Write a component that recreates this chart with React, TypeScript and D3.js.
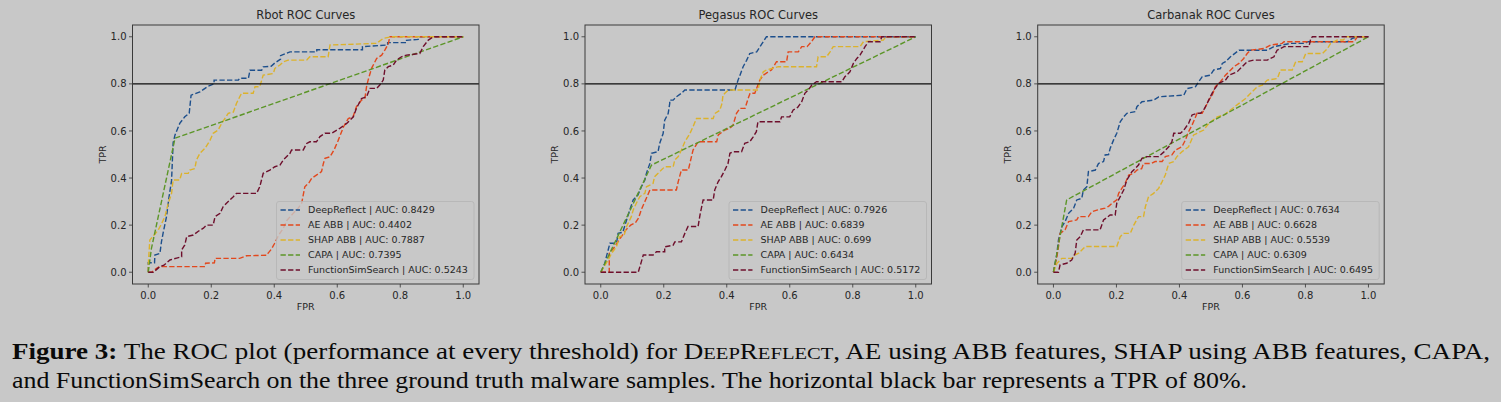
import React from "react";
import * as d3 from "d3";

type Pt = [number, number];

const panelTitles = ["Rbot ROC Curves", "Pegasus ROC Curves", "Carbanak ROC Curves"];
const seriesNames = ["DeepReflect", "AE ABB", "SHAP ABB", "CAPA", "FunctionSimSearch"];
const seriesColors = ["#1d4f8c", "#e2481d", "#dcb22c", "#5b9527", "#6e0f2c"];
const rbotAuc = ["0.8429", "0.4402", "0.7887", "0.7395", "0.5243"];
const pegasusAuc = ["0.7926", "0.6839", "0.699", "0.6434", "0.5172"];
const carbanakAuc = ["0.7634", "0.6628", "0.5539", "0.6309", "0.6495"];
const tickValues = [0, 0.2, 0.4, 0.6, 0.8, 1.0];
const thresholdTpr = 0.8;

// ---- Rbot ----
const rbotDeepReflect: Pt[] = [[0,0],[0,0.04],[0.02,0.04],[0.021,0.073],[0.037,0.08],[0.042,0.13],[0.048,0.172],[0.058,0.236],[0.066,0.32],[0.074,0.39],[0.079,0.55],[0.085,0.583],[0.1,0.632],[0.116,0.66],[0.13,0.675],[0.136,0.752],[0.164,0.766],[0.19,0.79],[0.209,0.8],[0.209,0.816],[0.286,0.816],[0.29,0.824],[0.318,0.824],[0.323,0.858],[0.36,0.858],[0.365,0.872],[0.39,0.875],[0.402,0.889],[0.42,0.905],[0.42,0.92],[0.45,0.936],[0.535,0.936],[0.535,0.945],[0.68,0.945],[0.68,0.958],[0.76,0.965],[0.76,0.975],[0.82,0.975],[0.82,0.985],[0.857,0.989],[0.86,1.0],[1,1]];
const rbotAeAbb: Pt[] = [[0,0],[0.011,0],[0.02,0.01],[0.03,0.02],[0.037,0.024],[0.18,0.024],[0.182,0.038],[0.21,0.04],[0.212,0.059],[0.29,0.059],[0.312,0.07],[0.376,0.072],[0.38,0.08],[0.392,0.1],[0.4,0.12],[0.413,0.155],[0.43,0.19],[0.44,0.22],[0.46,0.25],[0.475,0.27],[0.487,0.293],[0.497,0.363],[0.51,0.38],[0.519,0.399],[0.55,0.427],[0.556,0.462],[0.561,0.484],[0.577,0.49],[0.59,0.52],[0.603,0.56],[0.62,0.618],[0.635,0.653],[0.65,0.66],[0.661,0.703],[0.677,0.731],[0.688,0.74],[0.693,0.788],[0.698,0.816],[0.709,0.866],[0.725,0.908],[0.741,0.922],[0.751,0.943],[0.762,0.97],[0.767,1.0],[1,1]];
const rbotShapAbb: Pt[] = [[0,0],[0,0.03],[0.005,0.137],[0.02,0.16],[0.032,0.18],[0.04,0.2],[0.053,0.236],[0.063,0.29],[0.074,0.335],[0.079,0.392],[0.1,0.392],[0.106,0.42],[0.127,0.42],[0.132,0.434],[0.148,0.44],[0.153,0.477],[0.164,0.505],[0.18,0.526],[0.196,0.56],[0.206,0.59],[0.222,0.604],[0.233,0.632],[0.254,0.675],[0.27,0.68],[0.28,0.717],[0.296,0.76],[0.333,0.76],[0.339,0.788],[0.354,0.788],[0.365,0.837],[0.397,0.844],[0.402,0.866],[0.418,0.88],[0.429,0.894],[0.444,0.901],[0.503,0.901],[0.513,0.915],[0.571,0.915],[0.577,0.965],[0.725,0.972],[0.746,0.993],[0.772,1.0],[1,1]];
const rbotCapa: Pt[] = [[0,0],[0.01,0.1],[0.085,0.569],[1,1]];
const rbotFuncSim: Pt[] = [[0,0],[0.016,0],[0.025,0.01],[0.037,0.024],[0.05,0.03],[0.069,0.052],[0.09,0.06],[0.106,0.066],[0.106,0.095],[0.116,0.116],[0.122,0.151],[0.143,0.158],[0.16,0.175],[0.175,0.187],[0.185,0.2],[0.206,0.2],[0.212,0.236],[0.228,0.25],[0.238,0.279],[0.259,0.307],[0.27,0.321],[0.28,0.335],[0.344,0.335],[0.354,0.363],[0.365,0.42],[0.386,0.434],[0.402,0.448],[0.418,0.455],[0.429,0.477],[0.45,0.505],[0.455,0.519],[0.492,0.519],[0.503,0.547],[0.513,0.554],[0.534,0.554],[0.545,0.576],[0.561,0.59],[0.582,0.59],[0.608,0.611],[0.63,0.632],[0.651,0.66],[0.661,0.696],[0.677,0.738],[0.693,0.745],[0.704,0.781],[0.725,0.781],[0.735,0.795],[0.746,0.816],[0.751,0.859],[0.762,0.873],[0.778,0.88],[0.788,0.901],[0.804,0.915],[0.82,0.922],[0.862,0.929],[0.873,0.958],[0.889,0.986],[0.905,1.0],[1,1]];

// ---- Pegasus ----
const pegasusDeepReflect: Pt[] = [[0,0],[0.013,0.038],[0.018,0.066],[0.029,0.123],[0.05,0.123],[0.055,0.165],[0.07,0.17],[0.082,0.222],[0.092,0.264],[0.103,0.307],[0.118,0.328],[0.129,0.363],[0.14,0.392],[0.145,0.42],[0.156,0.462],[0.161,0.505],[0.182,0.512],[0.187,0.547],[0.198,0.589],[0.203,0.646],[0.214,0.674],[0.219,0.717],[0.219,0.731],[0.23,0.731],[0.24,0.745],[0.256,0.76],[0.267,0.774],[0.426,0.774],[0.431,0.795],[0.436,0.816],[0.442,0.837],[0.452,0.873],[0.463,0.9],[0.473,0.929],[0.495,0.936],[0.505,0.957],[0.516,0.979],[0.526,1.0],[1,1]];
const pegasusAeAbb: Pt[] = [[0,0],[0.027,0],[0.027,0.08],[0.04,0.1],[0.05,0.12],[0.065,0.15],[0.08,0.18],[0.095,0.2],[0.11,0.21],[0.12,0.23],[0.13,0.27],[0.14,0.3],[0.15,0.33],[0.156,0.349],[0.24,0.349],[0.246,0.385],[0.256,0.434],[0.278,0.434],[0.288,0.491],[0.293,0.519],[0.309,0.554],[0.368,0.554],[0.373,0.583],[0.394,0.604],[0.41,0.611],[0.42,0.625],[0.431,0.675],[0.442,0.696],[0.458,0.696],[0.468,0.738],[0.474,0.76],[0.489,0.76],[0.495,0.781],[0.505,0.816],[0.516,0.837],[0.532,0.851],[0.542,0.859],[0.558,0.894],[0.59,0.894],[0.595,0.936],[0.627,0.936],[0.638,0.958],[0.655,0.958],[0.669,0.979],[0.68,1.0],[1,1]];
const pegasusShapAbb: Pt[] = [[0,0],[0.023,0.05],[0.034,0.08],[0.05,0.109],[0.06,0.151],[0.075,0.16],[0.082,0.194],[0.097,0.236],[0.103,0.264],[0.113,0.293],[0.124,0.321],[0.14,0.335],[0.145,0.363],[0.166,0.377],[0.171,0.406],[0.182,0.42],[0.203,0.448],[0.23,0.448],[0.235,0.477],[0.246,0.491],[0.256,0.519],[0.267,0.554],[0.283,0.589],[0.293,0.618],[0.304,0.653],[0.357,0.653],[0.362,0.674],[0.378,0.688],[0.385,0.717],[0.388,0.752],[0.394,0.76],[0.405,0.774],[0.5,0.774],[0.505,0.816],[0.516,0.851],[0.526,0.859],[0.564,0.873],[0.685,0.873],[0.69,0.915],[0.717,0.915],[0.728,0.936],[0.738,0.958],[0.823,0.958],[0.834,0.979],[0.897,0.986],[0.905,1.0],[1,1]];
const pegasusCapa: Pt[] = [[0,0],[0.161,0.455],[1,1]];
const pegasusFuncSim: Pt[] = [[0,0],[0.119,0],[0.129,0.045],[0.135,0.073],[0.166,0.073],[0.177,0.087],[0.203,0.087],[0.203,0.108],[0.23,0.115],[0.235,0.129],[0.256,0.129],[0.267,0.165],[0.277,0.194],[0.309,0.194],[0.315,0.243],[0.325,0.307],[0.357,0.307],[0.362,0.35],[0.373,0.385],[0.383,0.406],[0.394,0.434],[0.404,0.462],[0.41,0.505],[0.42,0.512],[0.447,0.512],[0.457,0.547],[0.473,0.554],[0.484,0.575],[0.494,0.597],[0.499,0.639],[0.569,0.639],[0.574,0.66],[0.6,0.66],[0.611,0.689],[0.625,0.7],[0.638,0.724],[0.648,0.76],[0.659,0.774],[0.67,0.795],[0.685,0.809],[0.765,0.809],[0.775,0.83],[0.791,0.851],[0.802,0.887],[0.813,0.908],[0.823,0.922],[0.839,0.958],[0.85,0.979],[0.887,0.979],[0.892,1.0],[1,1]];

// ---- Carbanak ----
const carbanakDeepReflect: Pt[] = [[0,0],[0.005,0.038],[0.01,0.07],[0.016,0.137],[0.027,0.194],[0.037,0.215],[0.048,0.25],[0.064,0.272],[0.074,0.307],[0.09,0.314],[0.095,0.349],[0.106,0.363],[0.111,0.427],[0.133,0.434],[0.143,0.462],[0.159,0.47],[0.164,0.498],[0.175,0.5],[0.18,0.526],[0.191,0.562],[0.201,0.59],[0.212,0.639],[0.223,0.66],[0.233,0.675],[0.26,0.682],[0.265,0.703],[0.281,0.724],[0.318,0.731],[0.334,0.745],[0.414,0.752],[0.424,0.78],[0.451,0.788],[0.461,0.809],[0.472,0.83],[0.498,0.837],[0.509,0.859],[0.53,0.865],[0.536,0.887],[0.546,0.894],[0.562,0.915],[0.589,0.943],[0.679,0.943],[0.7,0.958],[0.726,0.965],[0.753,0.972],[0.8,0.972],[0.806,0.979],[0.933,0.979],[0.949,0.993],[0.965,1.0],[1,1]];
const carbanakAeAbb: Pt[] = [[0,0],[0.011,0.066],[0.016,0.109],[0.021,0.165],[0.037,0.18],[0.048,0.215],[0.074,0.222],[0.08,0.236],[0.111,0.236],[0.122,0.257],[0.138,0.264],[0.164,0.272],[0.175,0.28],[0.186,0.293],[0.201,0.307],[0.207,0.335],[0.217,0.356],[0.228,0.378],[0.239,0.413],[0.255,0.42],[0.265,0.434],[0.28,0.44],[0.286,0.462],[0.31,0.462],[0.323,0.47],[0.345,0.47],[0.355,0.491],[0.376,0.498],[0.387,0.519],[0.408,0.533],[0.419,0.562],[0.429,0.597],[0.44,0.625],[0.456,0.675],[0.472,0.675],[0.483,0.703],[0.493,0.731],[0.504,0.752],[0.514,0.788],[0.53,0.809],[0.546,0.837],[0.557,0.851],[0.573,0.873],[0.589,0.887],[0.604,0.908],[0.615,0.929],[0.626,0.943],[0.668,0.95],[0.689,0.965],[0.726,0.972],[0.732,0.979],[0.954,0.979],[0.965,1.0],[1,1]];
const carbanakShapAbb: Pt[] = [[0,0],[0.011,0.038],[0.027,0.059],[0.058,0.059],[0.069,0.074],[0.08,0.081],[0.101,0.109],[0.201,0.109],[0.212,0.151],[0.223,0.165],[0.244,0.165],[0.255,0.2],[0.27,0.236],[0.286,0.236],[0.292,0.279],[0.302,0.321],[0.318,0.335],[0.334,0.356],[0.345,0.385],[0.355,0.413],[0.366,0.462],[0.382,0.47],[0.392,0.491],[0.408,0.512],[0.429,0.533],[0.445,0.583],[0.456,0.59],[0.477,0.604],[0.493,0.632],[0.52,0.66],[0.541,0.668],[0.562,0.689],[0.589,0.717],[0.61,0.738],[0.626,0.76],[0.647,0.788],[0.663,0.795],[0.679,0.816],[0.711,0.823],[0.721,0.859],[0.758,0.859],[0.769,0.894],[0.79,0.894],[0.801,0.929],[0.854,0.929],[0.87,0.95],[0.88,0.972],[0.901,0.986],[0.92,0.986],[0.93,1.0],[1,1]];
const carbanakCapa: Pt[] = [[0,0],[0.042,0.307],[1,1]];
const carbanakFuncSim: Pt[] = [[0,0],[0.016,0],[0.021,0.031],[0.042,0.038],[0.058,0.052],[0.069,0.081],[0.074,0.137],[0.085,0.151],[0.095,0.18],[0.148,0.18],[0.159,0.222],[0.18,0.243],[0.196,0.243],[0.201,0.293],[0.212,0.321],[0.223,0.349],[0.233,0.392],[0.249,0.427],[0.26,0.441],[0.27,0.455],[0.281,0.484],[0.297,0.491],[0.334,0.491],[0.35,0.51],[0.366,0.533],[0.376,0.554],[0.382,0.59],[0.403,0.59],[0.414,0.604],[0.429,0.632],[0.44,0.668],[0.456,0.675],[0.467,0.675],[0.477,0.689],[0.488,0.717],[0.498,0.745],[0.509,0.774],[0.525,0.802],[0.546,0.816],[0.557,0.837],[0.583,0.851],[0.599,0.873],[0.615,0.894],[0.636,0.901],[0.679,0.901],[0.7,0.915],[0.71,0.943],[0.732,0.958],[0.811,0.958],[0.817,0.993],[0.822,1.0],[1,1]];

const panelSeries: Pt[][][] = [
  [rbotDeepReflect, rbotAeAbb, rbotShapAbb, rbotCapa, rbotFuncSim],
  [pegasusDeepReflect, pegasusAeAbb, pegasusShapAbb, pegasusCapa, pegasusFuncSim],
  [carbanakDeepReflect, carbanakAeAbb, carbanakShapAbb, carbanakCapa, carbanakFuncSim],
];
const panelAucs = [rbotAuc, pegasusAuc, carbanakAuc];

const W = 1501;
const H = 402;
const BG = "#c8c8c8";
const TXT = "#262626";
const panelLefts = [132.5, 585, 1037.7];
const axTop = 25;
const axW = 346.5;
const axH = 259;
const FONT = "'DejaVu Sans', sans-serif";

function Panel({ idx }: { idx: number }) {
  const left = panelLefts[idx];
  const x = d3.scaleLinear().domain([-0.05, 1.05]).range([left, left + axW]);
  const y = d3.scaleLinear().domain([-0.05, 1.05]).range([axTop + axH, axTop]);
  const line = d3.line<Pt>().x((d) => x(d[0])).y((d) => y(d[1]));
  const series = panelSeries[idx];
  const aucs = panelAucs[idx];
  const legW = 197.5;
  const legH = 78;
  const legX = left + axW - 5 - legW;
  const legY = axTop + axH - 4.5 - legH;
  return (
    <g>
      <text x={left + axW / 2} y={19} textAnchor="middle" fontSize={11.5} fill={TXT} fontFamily={FONT}>
        {panelTitles[idx]}
      </text>
      {tickValues.map((t) => (
        <g key={"y" + t}>
          <line x1={left - 3.5} x2={left} y1={y(t)} y2={y(t)} stroke="#333" strokeWidth={0.8} />
          <text x={left - 6} y={y(t)} dy="0.36em" textAnchor="end" fontSize={10} fill={TXT} fontFamily={FONT}>
            {d3.format(".1f")(t)}
          </text>
        </g>
      ))}
      {tickValues.map((t) => (
        <g key={"x" + t}>
          <line x1={x(t)} x2={x(t)} y1={axTop + axH} y2={axTop + axH + 3.5} stroke="#333" strokeWidth={0.8} />
          <text x={x(t)} y={axTop + axH + 14.5} textAnchor="middle" fontSize={10} fill={TXT} fontFamily={FONT}>
            {d3.format(".1f")(t)}
          </text>
        </g>
      ))}
      <text x={left + axW / 2} y={309.5} textAnchor="middle" fontSize={9.5} fill={TXT} fontFamily={FONT}>
        FPR
      </text>
      <text
        transform={`translate(${left - 27},${axTop + axH / 2}) rotate(-90)`}
        textAnchor="middle"
        fontSize={9.5}
        fill={TXT}
        fontFamily={FONT}
      >
        TPR
      </text>
      {series.map((s, i) => (
        <path
          key={"s" + i}
          d={line(s) || ""}
          fill="none"
          stroke={seriesColors[i]}
          strokeWidth={1.4}
          strokeDasharray="5.3,2.3"
        />
      ))}
      <line x1={left} x2={left + axW} y1={y(thresholdTpr)} y2={y(thresholdTpr)} stroke="#0d0d0d" strokeWidth={1.4} />
      <rect x={left} y={axTop} width={axW} height={axH} fill="none" stroke="#3a3a3a" strokeWidth={1} />
      <rect x={legX} y={legY} width={legW} height={legH} rx={2.5} fill={BG} fillOpacity={0.8} stroke="#b4b4b4" strokeWidth={0.8} />
      {seriesNames.map((n, i) => {
        const ry = legY + 8.5 + i * 15;
        return (
          <g key={"l" + i}>
            <line x1={legX + 4} x2={legX + 23.5} y1={ry} y2={ry} stroke={seriesColors[i]} strokeWidth={1.4} strokeDasharray="5.3,2.3" />
            <text x={legX + 31.6} y={ry} dy="0.36em" fontSize={9.5} fill={TXT} fontFamily={FONT}>
              {`${n} | AUC: ${aucs[i]}`}
            </text>
          </g>
        );
      })}
    </g>
  );
}

export default function App() {
  const serif = "'Liberation Serif', 'Times New Roman', serif";
  const fs = 23;
  const sc = 17.5;
  return (
    <div style={{ position: "absolute", left: 0, top: 0, width: W, height: H }}>
      <svg width={W} height={H} style={{ display: "block" }}>
        <rect x={0} y={0} width={W} height={H} fill={BG} />
        {[0, 1, 2].map((i) => (
          <Panel key={i} idx={i} />
        ))}
        <text x={12} y={359} fontSize={fs} fontFamily={serif} fill="#0a0a0a" textLength={1478} lengthAdjust="spacingAndGlyphs">
          <tspan fontWeight="bold">Figure 3:</tspan>
          <tspan> The ROC plot (performance at every threshold) for D</tspan>
          <tspan fontSize={sc}>EEP</tspan>
          <tspan>R</tspan>
          <tspan fontSize={sc}>EFLECT</tspan>
          <tspan>, AE using ABB features, SHAP using ABB features, CAPA,</tspan>
        </text>
        <text x={12} y={388} fontSize={fs} fontFamily={serif} fill="#0a0a0a" textLength={1235} lengthAdjust="spacingAndGlyphs">
          and FunctionSimSearch on the three ground truth malware samples. The horizontal black bar represents a TPR of 80%.
        </text>
      </svg>
    </div>
  );
}
